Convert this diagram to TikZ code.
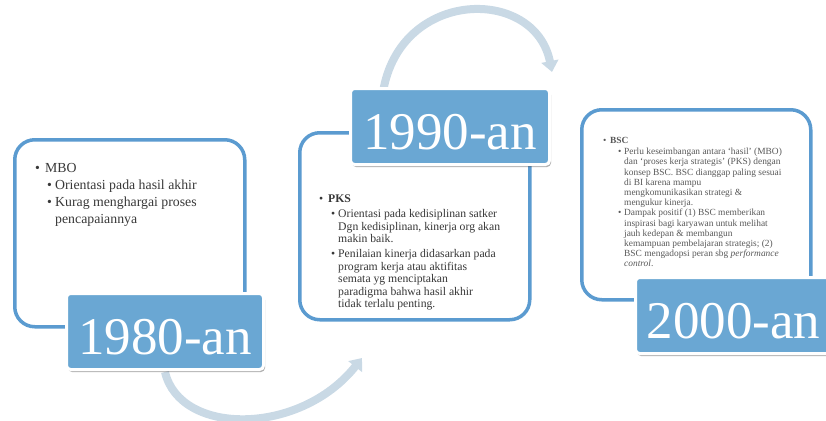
\documentclass[tikz,border=0pt]{standalone}
\usepackage{fontspec}
\setmainfont{Liberation Serif}
\usepackage{tikz}
\usetikzlibrary{arrows.meta, shadows, positioning}
\usepackage{xcolor}
\definecolor{biruLabel}{HTML}{6AA7D3}
\definecolor{biruGaris}{HTML}{5B9BD0}
\definecolor{abuPanah}{HTML}{C9D9E5}
\newcommand{\poin}[2]{\hspace*{#1}\makebox[#2][l]{\textbullet}}
\newcommand{\lanjut}[1]{\hspace*{#1}}

\begin{document}
\begin{tikzpicture}[x = 1pt, y = -1pt,
    kotak/.style = {draw = biruGaris, line width = 3.5pt, rounded corners = 20pt, fill = white, anchor = north west, inner sep = 0pt},
    tahun/.style = {fill = biruLabel, draw = white, line width = 3pt, rounded corners = 4pt, text = white, anchor = north west,
        font = \fontsize{53}{60}\selectfont, text height = 47pt, minimum height = 76pt,
        drop shadow = {shadow xshift = 1.5pt, shadow yshift = -2.5pt, opacity = 0.3, fill = black}},
    isi/.style = {anchor = north west, align = left, inner sep = 0pt, text = black!78},
    panah/.style = {draw = abuPanah, line width = 8pt, -{Triangle[length = 11pt, width = 17pt]}}]
    \useasboundingbox (0,0) rectangle (826,420);
    % Panah
    \coordinate (awal1) at (165,372);
    \coordinate (akhir1) at (362,358);
    \coordinate (awal2) at (383,92);
    \coordinate (akhir2) at (552,72);
    \draw[panah] (awal1) .. controls (180,436) and (300,436) .. (akhir1);
    \draw[panah] (awal2) .. controls (400,-12) and (535,-14) .. (akhir2);
    % Kotak isi
    \node[kotak, minimum width = 230pt, minimum height = 187pt] (kotak1) at (13,138) {};
    \node[kotak, minimum width = 230pt, minimum height = 187pt] (kotak2) at (298,131) {};
    \node[kotak, minimum width = 229pt, minimum height = 190pt] (kotak3) at (580,108) {};
    % Teks
    \node[isi, font = \fontsize{13.8}{17}\selectfont] (isi1) at ([shift = {(22,25)}]kotak1.north west)
        {\poin{0pt}{10pt}MBO\\
         \poin{12pt}{8pt}Orientasi pada hasil akhir\\
         \poin{12pt}{8pt}Kurag menghargai proses\\
         \lanjut{20pt}pencapaiannya};
    \node[isi, font = \fontsize{11.7}{12.5}\selectfont] (isi2) at ([shift = {(21,64)}]kotak2.north west)
        {\poin{0pt}{9pt}\textbf{PKS}\\[2.5pt]
         \poin{12pt}{7pt}Orientasi pada kedisiplinan satker\\
         \lanjut{19pt}Dgn kedisiplinan, kinerja org akan\\
         \lanjut{19pt}makin baik.\\[2.5pt]
         \poin{12pt}{7pt}Penilaian kinerja didasarkan pada\\
         \lanjut{19pt}program kerja atau aktifitas\\
         \lanjut{19pt}semata yg menciptakan\\
         \lanjut{19pt}paradigma bahwa hasil akhir\\
         \lanjut{19pt}tidak terlalu penting.};
    \node[isi, font = \fontsize{9.4}{10.2}\selectfont, text = black!65] (isi3) at ([shift = {(23,29)}]kotak3.north west)
        {\poin{0pt}{7pt}\textbf{BSC}\\[1pt]
         \poin{15pt}{6pt}Perlu keseimbangan antara `hasil' (MBO)\\
         \lanjut{21pt}dan `proses kerja strategis' (PKS) dengan\\
         \lanjut{21pt}konsep BSC. BSC dianggap paling sesuai\\
         \lanjut{21pt}di BI karena mampu\\
         \lanjut{21pt}mengkomunikasikan strategi \&\\
         \lanjut{21pt}mengukur kinerja.\\
         \poin{15pt}{6pt}Dampak positif (1) BSC memberikan\\
         \lanjut{21pt}inspirasi bagi karyawan untuk melihat\\
         \lanjut{21pt}jauh kedepan \&  membangun\\
         \lanjut{21pt}kemampuan pembelajaran strategis; (2)\\
         \lanjut{21pt}BSC mengadopsi peran sbg \textit{performance}\\
         \lanjut{21pt}\textit{control}.};
    % Label tahun
    \node[tahun, minimum width = 197pt] (tahun1) at (65,292) {1980-an};
    \node[tahun, minimum width = 199pt] (tahun2) at (349,87) {1990-an};
    \node[tahun, minimum width = 196pt] (tahun3) at (634,276) {2000-an};
\end{tikzpicture}
\end{document}
